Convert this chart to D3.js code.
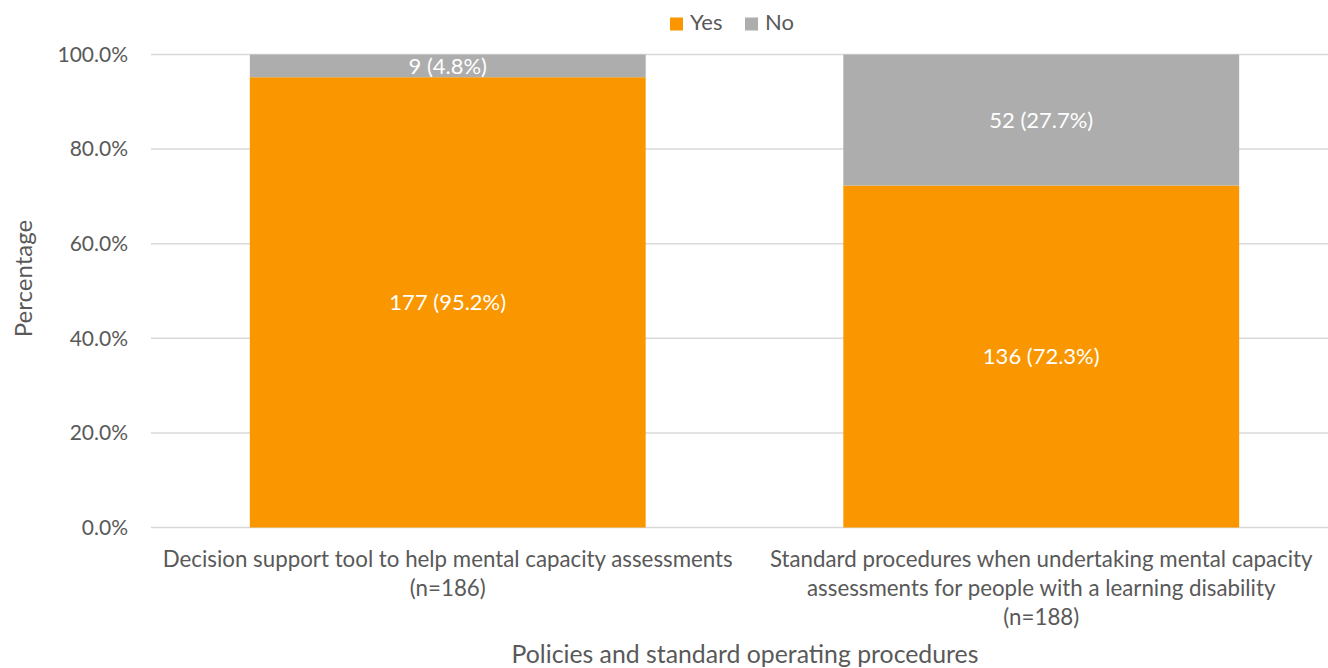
<!DOCTYPE html>
<html>
<head>
<meta charset="utf-8">
<script src="https://cdn.jsdelivr.net/npm/d3@7"></script>
<style>
  html, body { margin: 0; padding: 0; background: #fff; }
  svg { display: block; font-family: Lato, "Open Sans", sans-serif; }
</style>
</head>
<body>
<svg id="chart" width="1328" height="668"></svg>
<script>
// Categories (each label split into display lines)
const categories = ["decision", "standard"];
const categoryLines = [
  ["Decision support tool to help mental capacity assessments", "(n=186)"],
  ["Standard procedures when undertaking mental capacity", "assessments for people with a learning disability", "(n=188)"]
];
// Series: respondent counts and percentages
const yesCounts = [177, 136];
const yesPercent = [95.2, 72.3];
const noCounts = [9, 52];
const noPercent = [4.8, 27.7];
const seriesNames = ["Yes", "No"];
const seriesColors = ["#F99600", "#ADADAD"];
const yTicks = [0, 20, 40, 60, 80, 100];

const svg = d3.select("#chart");
const margin = { left: 151, right: -10, top: 54.5, bottom: 140.5 };
const W = 1328, H = 668;

const x = d3.scaleBand()
  .domain(categories)
  .range([margin.left, W - margin.right])
  .paddingInner(0.333)
  .paddingOuter(0.1665);

const y = d3.scaleLinear()
  .domain([0, 100])
  .range([H - margin.bottom, margin.top]);

const textColor = "#595959";

// Horizontal gridlines
svg.append("g")
  .selectAll("line")
  .data(yTicks)
  .join("line")
  .attr("x1", margin.left)
  .attr("x2", W - margin.right)
  .attr("y1", d => y(d))
  .attr("y2", d => y(d))
  .attr("stroke", "#D9D9D9")
  .attr("stroke-width", 1.5);

// Y axis tick labels
const yAxis = d3.axisLeft(y)
  .tickValues(yTicks)
  .tickFormat(d => d.toFixed(1) + "%")
  .tickSize(0)
  .tickPadding(23);
const yg = svg.append("g")
  .attr("transform", `translate(${margin.left},0)`)
  .call(yAxis);
yg.select(".domain").remove();
yg.selectAll("text")
  .attr("fill", textColor)
  .style("font-size", "21px")
  .style("font-family", "Lato, sans-serif");

// Stacked data
const rows = categories.map((c, i) => ({
  cat: c,
  Yes: yesPercent[i], No: noPercent[i],
  YesN: yesCounts[i], NoN: noCounts[i]
}));
const stack = d3.stack().keys(seriesNames);
const stacked = stack(rows);

const layers = svg.append("g")
  .selectAll("g")
  .data(stacked)
  .join("g")
  .attr("fill", (d, i) => seriesColors[i]);

layers.selectAll("rect")
  .data(d => d)
  .join("rect")
  .attr("x", d => x(d.data.cat))
  .attr("width", x.bandwidth())
  .attr("y", d => y(d[1]))
  .attr("height", d => y(d[0]) - y(d[1]));

// Value labels inside segments
layers.each(function (layer) {
  const key = layer.key;
  d3.select(this).selectAll("text")
    .data(layer)
    .join("text")
    .attr("x", d => x(d.data.cat) + x.bandwidth() / 2)
    .attr("y", d => (y(d[0]) + y(d[1])) / 2)
    .attr("dy", "0.35em")
    .attr("text-anchor", "middle")
    .attr("fill", "#fff")
    .style("font-size", "22px")
    .text(d => `${d.data[key + "N"]} (${d.data[key].toFixed(1)}%)`);
});

// Category labels under the bars
const catG = svg.append("g");
categories.forEach((c, i) => {
  const t = catG.append("text")
    .attr("x", x(c) + x.bandwidth() / 2)
    .attr("y", 567)
    .attr("text-anchor", "middle")
    .attr("fill", textColor)
    .style("font-size", "22.3px");
  categoryLines[i].forEach((line, j) => {
    t.append("tspan")
      .attr("x", x(c) + x.bandwidth() / 2)
      .attr("dy", j === 0 ? 0 : 29)
      .text(line);
  });
});

// Axis titles
svg.append("text")
  .attr("transform", `translate(32,278.5) rotate(-90)`)
  .attr("text-anchor", "middle")
  .attr("fill", textColor)
  .style("font-size", "24px")
  .text("Percentage");

svg.append("text")
  .attr("x", 745)
  .attr("y", 663)
  .attr("text-anchor", "middle")
  .attr("fill", textColor)
  .style("font-size", "24.8px")
  .text("Policies and standard operating procedures");

// Legend
const legend = svg.append("g");
const legendItems = [
  { name: seriesNames[0], color: seriesColors[0], x: 670 },
  { name: seriesNames[1], color: seriesColors[1], x: 745 }
];
legendItems.forEach(item => {
  legend.append("rect")
    .attr("x", item.x).attr("y", 17.5)
    .attr("width", 13).attr("height", 13)
    .attr("fill", item.color);
  legend.append("text")
    .attr("x", item.x + 20).attr("y", 30)
    .attr("fill", textColor)
    .style("font-size", "22px")
    .text(item.name);
});
</script>
</body>
</html>
